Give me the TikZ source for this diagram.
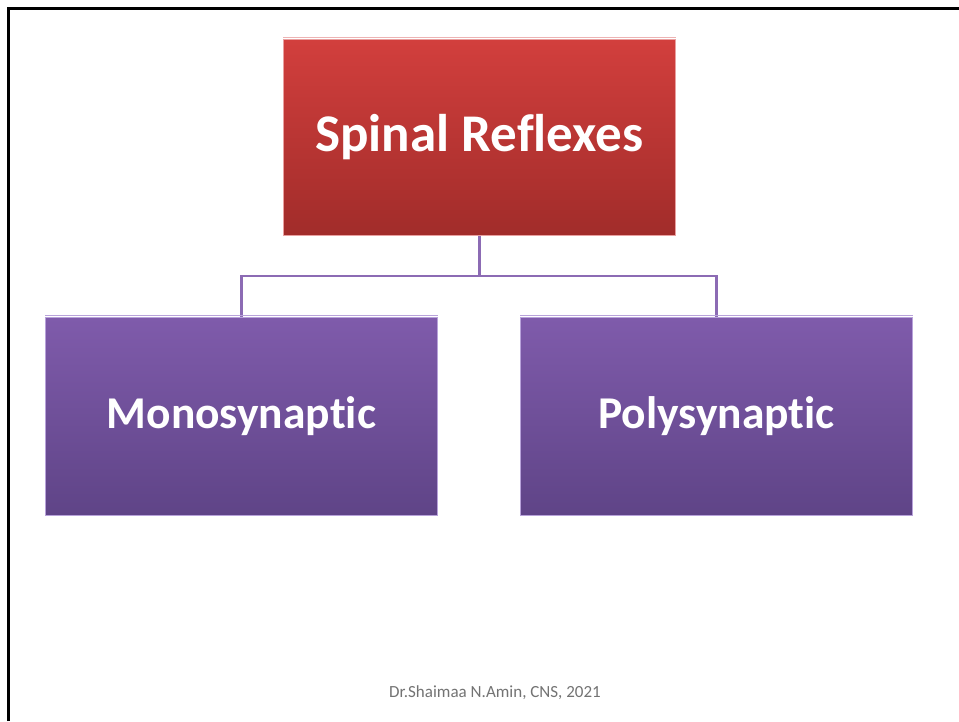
\documentclass[tikz,border=0pt]{standalone}
\usepackage{fontspec}
\setmainfont{Carlito}[Ligatures={NoCommon}]
\begin{document}
\begin{tikzpicture}[x=1pt,y=-1pt,
  redbox/.style={minimum width=392pt,minimum height=196pt,inner sep=0pt,anchor=north west,
     top color=red1,bottom color=red2,draw=red3,line width=0.8pt,text=white,font=\bfseries\fontsize{53}{58}\selectfont},
  purpbox/.style={minimum width=392pt,minimum height=198pt,inner sep=0pt,anchor=north west,
     top color=purp1,bottom color=purp2,draw=purp3,line width=0.8pt,text=white,font=\bfseries\fontsize{45.5}{50}\selectfont},
  conn/.style={draw=connc,line width=2.5pt}]
\definecolor{red1}{HTML}{D23F3D}
\definecolor{red2}{HTML}{A12C2A}
\definecolor{red3}{HTML}{E9A0A0}
\definecolor{purp1}{HTML}{7F5BAB}
\definecolor{purp2}{HTML}{5F4487}
\definecolor{purp3}{HTML}{B8A2DA}
\definecolor{connc}{HTML}{8C6BB4}
\useasboundingbox (0,0) rectangle (959,721);
\fill[white] (0,0) rectangle (959,721);
\draw[line width=3pt,black] (8,721) -- (8,8) -- (959,8);
\node[redbox] (top) at (283,39) {Spinal Reflexes};
\node[purpbox] (mono) at (45,317) {Monosynaptic};
\node[purpbox] (poly) at (520,317) {Polysynaptic};
\draw[conn] (top.south) -- ++(0,40) coordinate (j) -| (mono.north);
\draw[conn] (j) -| (poly.north);
\draw[red3!80!white,line width=1.5pt] ([yshift=1.5pt]top.north west) -- ([yshift=1.5pt]top.north east);
\draw[purp3,line width=1.5pt] ([yshift=1.5pt]mono.north west) -- ([yshift=1.5pt]mono.north east);
\draw[purp3,line width=1.5pt] ([yshift=1.5pt]poly.north west) -- ([yshift=1.5pt]poly.north east);
\node[text=gray!90!black,font=\fontsize{17}{20}\selectfont] (foot) at (495,693) {Dr.Shaimaa N.Amin, CNS, 2021};
\end{tikzpicture}
\end{document}
